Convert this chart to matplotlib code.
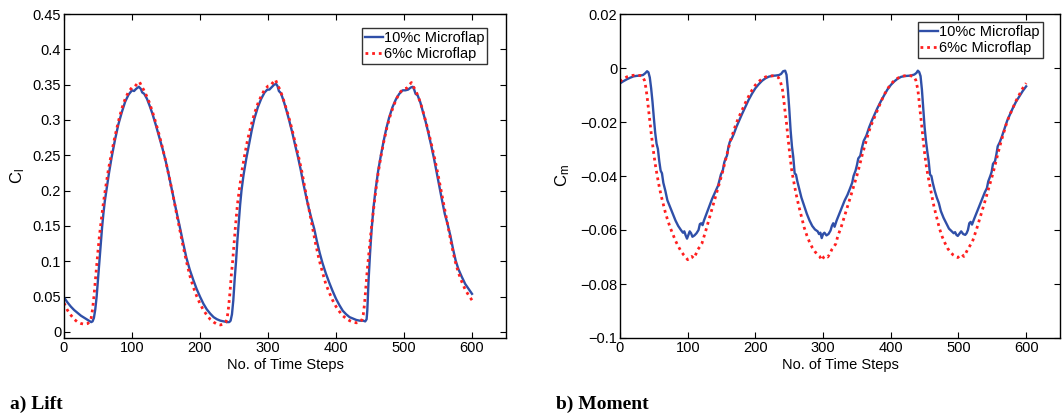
import matplotlib
matplotlib.use("Agg")
import matplotlib.pyplot as plt
from matplotlib.ticker import FixedLocator, FuncFormatter

plt.rcParams["font.family"] = ["Liberation Sans", "DejaVu Sans"]
plt.rcParams["mathtext.fontset"] = "custom"
plt.rcParams["mathtext.rm"] = "Liberation Sans"

# ---------------- Lift coefficient ----------------
lift_10_steps = [0, 5, 10, 15, 20, 25, 30, 35, 40, 42, 44, 46, 48, 50, 52, 54, 56, 58, 60, 63, 66,
                 70, 75, 80, 85, 90, 95, 100, 103, 106, 110, 113, 115, 118, 122, 126, 130, 135,
                 140, 145, 150, 155, 160, 165, 170, 175, 180, 185, 190, 195, 200, 205, 210, 215,
                 220, 225, 230, 235, 240, 243,
                 245, 247, 249, 251, 253, 255, 257, 259, 261, 264, 268, 272, 276, 280, 285, 290,
                 295, 299, 302, 305, 309, 312, 314, 316, 319, 323, 327, 331, 336, 340, 344, 348,
                 352, 356, 360, 364, 368, 372, 376, 380, 385, 390, 395, 400, 405, 410, 415, 420,
                 425, 430, 435, 440, 443,
                 445, 446, 448, 450, 452, 455, 458, 462, 466, 470, 474, 478, 483, 488, 493, 498,
                 502, 506, 510, 513, 515, 517, 520, 524, 528, 532, 536, 540, 544, 548, 552, 556,
                 560, 564, 568, 572, 576, 580, 585, 590, 595, 600]
lift_10 = [0.049, 0.042, 0.036, 0.031, 0.027, 0.023, 0.020, 0.017, 0.014, 0.015, 0.020, 0.032,
           0.050, 0.075, 0.100, 0.125, 0.148, 0.168, 0.185, 0.205, 0.224, 0.247, 0.272, 0.294,
           0.311, 0.326, 0.336, 0.342, 0.341, 0.344, 0.347, 0.344, 0.339, 0.337, 0.330, 0.320,
           0.309, 0.293, 0.276, 0.259, 0.240, 0.218, 0.195, 0.172, 0.150, 0.127, 0.105, 0.088,
           0.074, 0.061, 0.050, 0.040, 0.032, 0.026, 0.021, 0.018, 0.016, 0.015, 0.014, 0.014,
           0.016, 0.025, 0.045, 0.075, 0.100, 0.130, 0.155, 0.180, 0.200, 0.222, 0.245, 0.265,
           0.285, 0.302, 0.318, 0.330, 0.339, 0.343, 0.343, 0.346, 0.350, 0.351, 0.348, 0.341,
           0.338, 0.327, 0.314, 0.300, 0.281, 0.264, 0.248, 0.230, 0.210, 0.192, 0.175, 0.160,
           0.146, 0.128, 0.112, 0.098, 0.083, 0.070, 0.058, 0.047, 0.038, 0.030, 0.025, 0.021,
           0.019, 0.017, 0.016, 0.016, 0.015,
           0.018, 0.030, 0.075, 0.110, 0.140, 0.175, 0.200, 0.228, 0.250, 0.270, 0.288, 0.303,
           0.318, 0.329, 0.337, 0.342, 0.342, 0.343, 0.346, 0.347, 0.343, 0.337, 0.335, 0.325,
           0.311, 0.297, 0.281, 0.264, 0.246, 0.226, 0.206, 0.186, 0.167, 0.153, 0.137, 0.118,
           0.101, 0.089, 0.078, 0.068, 0.061, 0.054]

lift_6_steps = [0, 5, 10, 15, 20, 25, 30, 35, 38, 40, 42, 44, 46, 48, 50, 52, 55, 58, 61, 65, 70,
                75, 80, 85, 90, 95, 100, 104, 108, 111, 114, 117, 121, 125, 130, 135, 140, 145,
                150, 155, 160, 165, 170, 175, 180, 185, 190, 195, 200, 205, 210, 215, 220, 225,
                230, 234, 238, 240, 242, 244, 246, 248, 250, 252, 255, 258, 262, 266, 270, 275,
                280, 285, 290, 295, 300, 304, 308, 311, 314, 317, 321, 325, 330, 335, 340, 345,
                350, 355, 360, 365, 370, 375, 380, 385, 390, 395, 400, 405, 410, 415, 420, 425,
                430, 435, 438, 440, 442, 444, 446, 448, 450, 452, 455, 458, 462, 466, 470, 475,
                480, 485, 490, 495, 500, 504, 508, 511, 514, 517, 521, 525, 530, 535, 540, 545,
                550, 555, 560, 565, 570, 575, 580, 585, 590, 595, 600]
lift_6 = [0.041, 0.031, 0.024, 0.018, 0.014, 0.012, 0.011, 0.012, 0.015, 0.020, 0.032, 0.050,
          0.072, 0.095, 0.115, 0.135, 0.160, 0.183, 0.203, 0.228, 0.254, 0.277, 0.298, 0.316,
          0.330, 0.340, 0.346, 0.347, 0.352, 0.354, 0.348, 0.343, 0.335, 0.326, 0.312, 0.296,
          0.279, 0.260, 0.240, 0.218, 0.195, 0.170, 0.146, 0.122, 0.100, 0.080, 0.064, 0.051,
          0.040, 0.031, 0.024, 0.018, 0.014, 0.011, 0.010, 0.011, 0.014, 0.020, 0.035, 0.055,
          0.080, 0.100, 0.125, 0.148, 0.180, 0.203, 0.230, 0.252, 0.272, 0.292, 0.309, 0.323,
          0.334, 0.343, 0.348, 0.349, 0.354, 0.357, 0.350, 0.344, 0.334, 0.322, 0.306, 0.288,
          0.268, 0.248, 0.226, 0.200, 0.175, 0.150, 0.125, 0.103, 0.085, 0.068, 0.056, 0.045,
          0.036, 0.029, 0.023, 0.019, 0.016, 0.014, 0.013, 0.014, 0.017, 0.024, 0.040, 0.065,
          0.088, 0.108, 0.128, 0.147, 0.172, 0.196, 0.225, 0.248, 0.268, 0.290, 0.307, 0.321,
          0.332, 0.340, 0.344, 0.345, 0.350, 0.353, 0.347, 0.342, 0.333, 0.322, 0.305, 0.287,
          0.267, 0.246, 0.223, 0.198, 0.173, 0.148, 0.123, 0.101, 0.084, 0.071, 0.060, 0.052,
          0.045]

# ---------------- Moment coefficient ----------------
moment_10_steps = [0, 5, 10, 15, 20, 25, 30, 34, 37, 40, 42, 44, 46, 48, 50, 52, 54, 56, 58, 60,
                   62, 64, 67, 70, 74, 78, 82, 86, 90, 93, 95, 97, 99, 101, 103, 105, 107, 110,
                   113, 116, 118, 120, 122, 124, 127, 130, 133, 136, 139, 142, 145, 147, 149, 152,
                   154, 156, 158, 160, 162, 165, 168, 172, 176, 180, 185, 190, 195, 200, 205, 210,
                   215, 220, 225, 230, 235, 238, 241, 244, 246, 248, 250, 252, 254, 256, 258, 260,
                   262, 265, 268, 272, 276, 280, 284, 288, 292, 294, 296, 298, 300, 302, 305, 308,
                   311, 313, 315, 317, 320, 324, 328, 332, 336, 340, 343, 345, 348, 350, 352, 355,
                   357, 360, 364, 368, 372, 376, 380, 385, 390, 395, 400, 405, 410, 415, 420, 425,
                   430, 435, 438, 440, 442, 444, 446, 448, 450, 452, 454, 456, 458, 460, 462, 465,
                   468, 471, 474, 478, 482, 486, 490, 493, 495, 497, 499, 502, 504, 507, 510, 512,
                   514, 516, 518, 520, 523, 527, 531, 535, 539, 542, 544, 547, 549, 551, 554, 556,
                   558, 561, 564, 568, 572, 576, 580, 585, 590, 595, 600]
moment_10 = [-0.0057, -0.0049, -0.0042, -0.0036, -0.0031, -0.0029, -0.0028, -0.0026, -0.0020,
             -0.0012, -0.0016, -0.0035, -0.0075, -0.0125, -0.0185, -0.0240, -0.0280, -0.0300,
             -0.0345, -0.0380, -0.0390, -0.0425, -0.0455, -0.0490, -0.0515, -0.0540, -0.0565,
             -0.0585, -0.0600, -0.0610, -0.0605, -0.0620, -0.0632, -0.0618, -0.0605, -0.0612,
             -0.0625, -0.0620, -0.0612, -0.0600, -0.0578, -0.0575, -0.0582, -0.0565, -0.0545,
             -0.0525, -0.0505, -0.0485, -0.0468, -0.0450, -0.0435, -0.0415, -0.0395, -0.0378,
             -0.0350, -0.0335, -0.0325, -0.0295, -0.0275, -0.0262, -0.0245, -0.0218, -0.0195,
             -0.0172, -0.0145, -0.0118, -0.0095, -0.0075, -0.0060, -0.0047, -0.0038, -0.0032,
             -0.0029, -0.0028, -0.0026, -0.0022, -0.0012, -0.0010, -0.0025, -0.0080, -0.0150,
             -0.0230, -0.0290, -0.0330, -0.0390, -0.0395, -0.0420, -0.0450, -0.0480, -0.0510,
             -0.0540, -0.0565, -0.0585, -0.0598, -0.0605, -0.0615, -0.0610, -0.0630, -0.0615,
             -0.0610, -0.0620, -0.0615, -0.0602, -0.0585, -0.0575, -0.0588, -0.0565, -0.0540,
             -0.0515, -0.0490, -0.0470, -0.0445, -0.0425, -0.0400, -0.0380, -0.0360, -0.0335,
             -0.0325, -0.0300, -0.0270, -0.0250, -0.0220, -0.0195, -0.0172, -0.0150, -0.0125,
             -0.0102, -0.0080, -0.0063, -0.0050, -0.0040, -0.0033, -0.0030, -0.0029, -0.0028,
             -0.0024, -0.0018, -0.0010, -0.0015, -0.0030, -0.0080, -0.0150, -0.0220, -0.0270,
             -0.0310, -0.0345, -0.0395, -0.0400, -0.0425, -0.0455, -0.0480, -0.0500, -0.0530,
             -0.0555, -0.0575, -0.0595, -0.0605, -0.0612, -0.0608, -0.0618, -0.0622, -0.0612,
             -0.0605, -0.0615, -0.0618, -0.0612, -0.0600, -0.0575, -0.0570, -0.0580, -0.0560,
             -0.0535, -0.0510, -0.0485, -0.0460, -0.0445, -0.0420, -0.0400, -0.0385, -0.0355,
             -0.0345, -0.0320, -0.0290, -0.0275, -0.0255, -0.0225, -0.0195, -0.0172, -0.0150,
             -0.0125, -0.0105, -0.0085, -0.0068]

moment_6_steps = [0, 5, 10, 15, 20, 25, 30, 33, 36, 38, 40, 42, 44, 46, 48, 50, 52, 55, 58, 61,
                  64, 67, 70, 74, 78, 82, 86, 90, 94, 97, 100, 103, 106, 109, 112, 115, 118, 121,
                  124, 127, 131, 135, 139, 143, 147, 151, 155, 159, 163, 167, 171, 175, 180, 185,
                  190, 195, 200, 205, 210, 215, 220, 225, 230, 234, 237, 240, 242, 244, 246, 248,
                  250, 252, 254, 257, 260, 264, 268, 272, 276, 280, 284, 288, 292, 295, 298, 301,
                  304, 307, 310, 313, 316, 319, 322, 326, 330, 334, 338, 342, 346, 350, 354, 358,
                  362, 366, 370, 375, 380, 385, 390, 395, 400, 405, 410, 415, 420, 425, 430, 434,
                  437, 440, 442, 444, 446, 448, 450, 452, 455, 458, 461, 464, 468, 472, 476, 480,
                  484, 488, 492, 496, 499, 502, 505, 508, 511, 514, 517, 520, 523, 527, 531, 535,
                  539, 543, 547, 551, 555, 559, 563, 567, 571, 575, 580, 585, 590, 595, 600]
moment_6 = [-0.0050, -0.0040, -0.0033, -0.0029, -0.0027, -0.0027, -0.0028, -0.0031, -0.0045,
            -0.0070, -0.0105, -0.0150, -0.0195, -0.0240, -0.0280, -0.0320, -0.0355, -0.0400,
            -0.0440, -0.0475, -0.0505, -0.0535, -0.0560, -0.0590, -0.0615, -0.0640, -0.0660,
            -0.0678, -0.0692, -0.0700, -0.0710, -0.0702, -0.0698, -0.0705, -0.0690, -0.0672,
            -0.0662, -0.0650, -0.0625, -0.0600, -0.0565, -0.0530, -0.0495, -0.0460, -0.0425,
            -0.0390, -0.0350, -0.0310, -0.0270, -0.0240, -0.0210, -0.0185, -0.0158, -0.0130,
            -0.0105, -0.0082, -0.0063, -0.0050, -0.0040, -0.0033, -0.0030, -0.0029, -0.0031,
            -0.0035, -0.0050, -0.0080, -0.0120, -0.0165, -0.0205, -0.0255, -0.0300, -0.0345,
            -0.0385, -0.0425, -0.0465, -0.0510, -0.0550, -0.0590, -0.0620, -0.0645, -0.0665,
            -0.0680, -0.0692, -0.0698, -0.0712, -0.0700, -0.0695, -0.0700, -0.0688, -0.0672,
            -0.0662, -0.0650, -0.0620, -0.0595, -0.0562, -0.0530, -0.0498, -0.0465, -0.0432,
            -0.0398, -0.0360, -0.0320, -0.0285, -0.0250, -0.0218, -0.0188, -0.0158, -0.0128,
            -0.0100, -0.0078, -0.0060, -0.0047, -0.0038, -0.0032, -0.0029, -0.0028, -0.0029,
            -0.0032, -0.0045, -0.0080, -0.0125, -0.0175, -0.0220, -0.0270, -0.0315, -0.0355,
            -0.0400, -0.0440, -0.0478, -0.0515, -0.0555, -0.0595, -0.0625, -0.0648, -0.0668,
            -0.0682, -0.0692, -0.0698, -0.0702, -0.0695, -0.0690, -0.0698, -0.0685, -0.0670,
            -0.0658, -0.0648, -0.0625, -0.0595, -0.0562, -0.0528, -0.0495, -0.0460, -0.0425,
            -0.0390, -0.0350, -0.0310, -0.0272, -0.0238, -0.0205, -0.0178, -0.0150, -0.0122,
            -0.0098, -0.0075, -0.0056]

series_names = ["10%c Microflap", "6%c Microflap"]
x_ticks = [0, 100, 200, 300, 400, 500, 600]
lift_ticks = [0, 0.05, 0.1, 0.15, 0.2, 0.25, 0.3, 0.35, 0.4, 0.45]
moment_ticks = [-0.1, -0.08, -0.06, -0.04, -0.02, 0, 0.02]

BLUE = "#2f4fa8"
RED = "#ff1f1f"
W, H = 1062, 416

fig = plt.figure(figsize=(W / 100, H / 100), dpi=100)
ax_l = fig.add_axes([64 / W, 78 / H, 442 / W, 324 / H])
ax_m = fig.add_axes([620 / W, 78 / H, 440 / W, 324 / H])


def num_fmt(v, _pos):
    s = f"{v:.2f}".rstrip("0").rstrip(".")
    if s in ("-0", "0"):
        return "0"
    return s.replace("-", "\u2212")


def style_axes(ax, yticks, ylim):
    ax.set_xlim(0, 650)
    ax.set_ylim(*ylim)
    ax.xaxis.set_major_locator(FixedLocator(x_ticks))
    ax.yaxis.set_major_locator(FixedLocator(yticks))
    ax.yaxis.set_major_formatter(FuncFormatter(num_fmt))
    ax.tick_params(direction="in", length=4.5, width=0.8, top=True, right=True,
                   labelsize=10.5, pad=2, colors="black")
    for sp in ax.spines.values():
        sp.set_linewidth(1.0)
    ax.set_xlabel("No. of Time Steps", fontsize=10.5, labelpad=2)


dot_style = (0, (1.0, 1.4))

ax_l.plot(lift_10_steps, lift_10, color=BLUE, lw=1.7, label=series_names[0])
ax_l.plot(lift_6_steps, lift_6, color=RED, lw=2.0, linestyle=dot_style, label=series_names[1])
style_axes(ax_l, lift_ticks, (-0.0085, 0.45))
ax_l.set_ylabel(r"$\mathregular{C_l}$", fontsize=12, labelpad=4)

ax_m.plot(moment_10_steps, moment_10, color=BLUE, lw=1.7, label=series_names[0])
ax_m.plot(moment_6_steps, moment_6, color=RED, lw=2.0, linestyle=dot_style, label=series_names[1])
style_axes(ax_m, moment_ticks, (-0.1, 0.02))
ax_m.set_ylabel(r"$\mathregular{C_m}$", fontsize=12, labelpad=6)

for ax, anchor in ((ax_l, (0.958, 0.956)), (ax_m, (0.961, 0.974))):
    leg = ax.legend(loc="upper right", bbox_to_anchor=anchor, fontsize=10.5, frameon=True,
                    fancybox=False, handlelength=1.2, handletextpad=0.1, borderpad=0.2,
                    labelspacing=0.12, borderaxespad=0.0)
    leg.get_frame().set_edgecolor("black")
    leg.get_frame().set_linewidth(1.0)

fig.text(10 / W, 1 - 404 / H, "a) Lift", fontsize=14, fontweight="bold",
         family="Liberation Serif", va="center", ha="left")
fig.text(556 / W, 1 - 404 / H, "b) Moment", fontsize=14, fontweight="bold",
         family="Liberation Serif", va="center", ha="left")

fig.savefig("out.png", dpi=100)
